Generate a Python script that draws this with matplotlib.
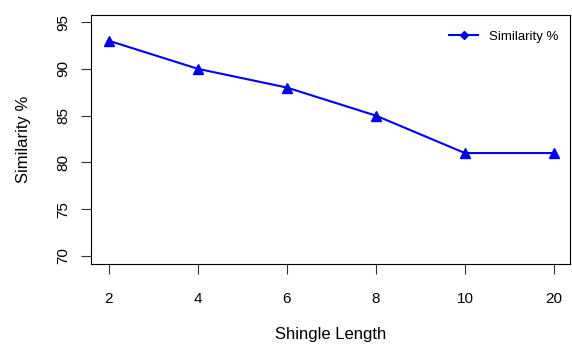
import matplotlib
matplotlib.use("Agg")
import matplotlib.pyplot as plt

plt.rcParams['font.family'] = ['Liberation Sans', 'DejaVu Sans']

shingle_labels = ["2", "4", "6", "8", "10", "20"]
similarity = [93, 90, 88, 85, 81, 81]
y_ticks = [70, 75, 80, 85, 90, 95]

fig = plt.figure(figsize=(5.72, 3.44), dpi=100)
ax = fig.add_axes([91/572, 80/344, (570-91)/572, (264-15)/344])
x = list(range(1, len(similarity) + 1))
ax.plot(x, similarity, color='#0000ff', lw=1.5, marker='^', markersize=6.5, zorder=3)
ax.plot([], [], color='#0000ff', lw=1.5, marker='D', markersize=4, label='Similarity %')

ax.set_xlim(0.8, 6.18)
ax.set_ylim(69.15, 95.75)
ax.set_xticks(x)
ax.set_xticklabels(shingle_labels, fontsize=11)
ax.set_yticks(y_ticks)
ax.set_yticklabels([str(v) for v in y_ticks], fontsize=11, rotation=90, va='center')
ax.tick_params(axis='both', direction='out', length=7, width=0.8, color='#333333')
ax.tick_params(axis='x', pad=13.5)
ax.tick_params(axis='y', pad=8)
for s in ax.spines.values():
    s.set_linewidth(0.8)
ax.set_xlabel("Shingle Length", fontsize=12, labelpad=15)
ax.set_ylabel("Similarity %", fontsize=12, labelpad=18)
ax.legend(loc='upper right', frameon=False, fontsize=9.5, handlelength=2.2,
          bbox_to_anchor=(1.0, 0.985))

fig.savefig("out.png", dpi=100)
